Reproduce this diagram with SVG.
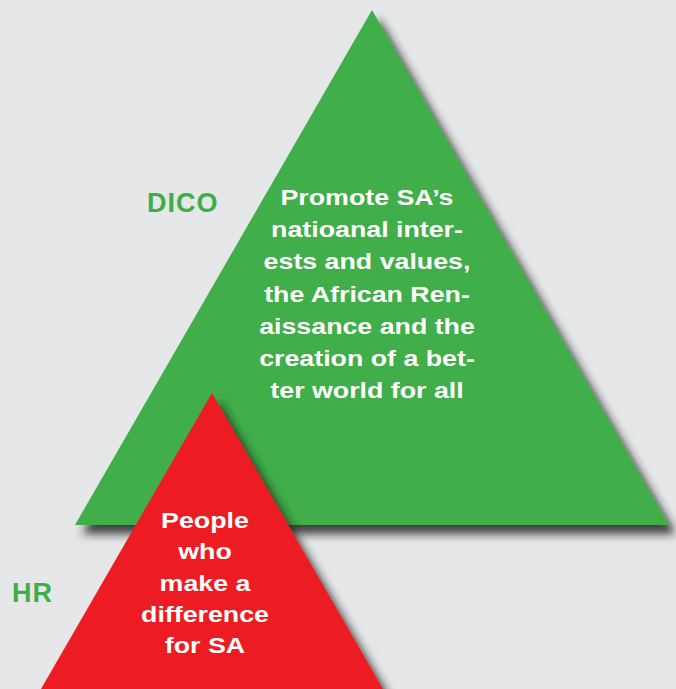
<svg xmlns="http://www.w3.org/2000/svg" width="676" height="689" viewBox="0 0 676 689">
<defs>
<filter id="sh" x="-20%" y="-20%" width="150%" height="150%">
<feDropShadow dx="7" dy="9" stdDeviation="5" flood-color="#231f20" flood-opacity="0.85"/>
</filter>
<style>
.w{font-family:"Liberation Sans",Arial,sans-serif;font-weight:bold;font-size:22.5px;fill:#ffffff;text-anchor:middle}
.g{font-family:"Liberation Sans",Arial,sans-serif;font-weight:bold;font-size:27px;letter-spacing:1px;fill:#3fae49}
</style>
</defs>
<rect width="676" height="689" fill="#e6e7e8"/>
<g id="dico">
<polygon points="372,10 669,525 75,525" fill="#3fae49" filter="url(#sh)"/>
<text class="w" transform="translate(367,0) scale(1.19,1)"><tspan x="0" y="205">Promote SA’s</tspan><tspan x="0" y="237">natioanal inter-</tspan><tspan x="0" y="269">ests and values,</tspan><tspan x="0" y="302">the African Ren-</tspan><tspan x="0" y="334">aissance and the</tspan><tspan x="0" y="366">creation of a bet-</tspan><tspan x="0" y="398">ter world for all</tspan></text>
</g>
<g id="hr">
<polygon points="212,393 383,689 41,689" fill="#ed1c24" filter="url(#sh)"/>
<text class="w" transform="translate(205,0) scale(1.19,1)"><tspan x="0" y="528">People</tspan><tspan x="0" y="559">who</tspan><tspan x="0" y="591">make a</tspan><tspan x="0" y="622">difference</tspan><tspan x="0" y="653">for SA</tspan></text>
</g>
<text class="g" x="147" y="212">DICO</text>
<text class="g" x="12" y="602">HR</text>
</svg>
